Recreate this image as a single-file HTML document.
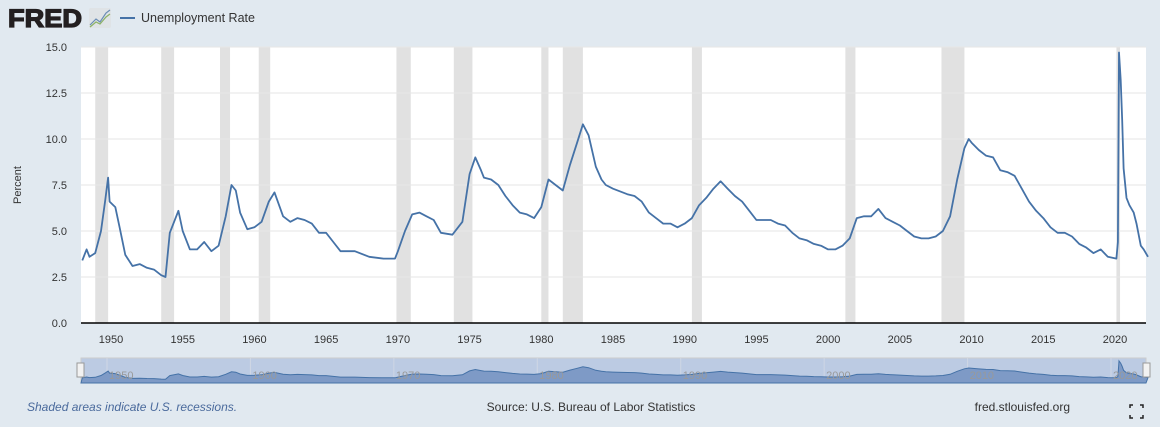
<!DOCTYPE html>
<html><head><meta charset="utf-8"><style>
body{margin:0;background:#e1e9f0;font-family:"Liberation Sans",sans-serif;}
</style></head><body>
<svg id="s" width="1160" height="427" xmlns="http://www.w3.org/2000/svg" style="display:block">
<rect width="1160" height="427" fill="#e1e9f0"/>
<text x="8" y="27" font-size="25" font-weight="bold" fill="#231f20" stroke="#231f20" stroke-width="1.3" font-family="Liberation Sans" textLength="74" lengthAdjust="spacingAndGlyphs">FRED</text>
<rect x="89" y="8" width="22" height="20" rx="2" fill="#dfe3e6"/>
<polyline points="90,25 96,19 100,22 106,13 110,10" fill="none" stroke="#6a8db5" stroke-width="1.2"/>
<polyline points="90,27 96,22 100,24 106,17 110,14" fill="none" stroke="#8cb266" stroke-width="1.2"/>
<line x1="120" y1="18" x2="135" y2="18" stroke="#4572a7" stroke-width="2"/>
<text x="141" y="22" font-size="12.5" fill="#333">Unemployment Rate</text>
<rect x="81" y="47" width="1065" height="276" fill="#fff"/>
<g id="rec" fill="#e1e1e1"></g>
<g id="grid" stroke="#e6e6e6" stroke-width="1"></g>
<g id="yl" font-size="11" fill="#333" text-anchor="end"></g>
<g id="xl" font-size="11" fill="#333" text-anchor="middle"></g>
<text transform="translate(21,185) rotate(-90)" font-size="11" fill="#333" text-anchor="middle">Percent</text>
<path id="ln" fill="none" stroke="#4572a7" stroke-width="1.8" stroke-linejoin="round"/>
<line x1="81" y1="323" x2="1146" y2="323" stroke="#000" stroke-width="1.5"/>
<rect x="81" y="358" width="1065" height="25" fill="#bccbe3" stroke="#ccc"/>
<g id="ng" stroke="#cfd7e4"></g>
<path id="na" fill="#7e9ac6" stroke="#4572a7" stroke-width="1"/>
<g id="nl" font-size="11" fill="#999"></g>
<rect x="77" y="363" width="7" height="14" fill="#f2f2f2" stroke="#999"/>
<rect x="1143" y="363" width="7" height="14" fill="#f2f2f2" stroke="#999"/>
<text x="27" y="411" font-size="12" font-style="italic" fill="#4a6a9c">Shaded areas indicate U.S. recessions.</text>
<text x="591" y="411" font-size="12" fill="#333" text-anchor="middle">Source: U.S. Bureau of Labor Statistics</text>
<text x="1070" y="411" font-size="12" fill="#333" text-anchor="end">fred.stlouisfed.org</text>
<path d="M1130 408v-3h3M1140 405h3v3M1143 415v3h-3M1133 418h-3v-3" stroke="#222" stroke-width="1.5" fill="none"/>
</svg>
<script>
const NS="http://www.w3.org/2000/svg";
const X=y=>111+(y-1950)*14.343, Y=v=>323-v*18.4;
function el(p,t,a,txt){const e=document.createElementNS(NS,t);for(const k in a)e.setAttribute(k,a[k]);if(txt)e.textContent=txt;document.getElementById(p).appendChild(e);}
[[1948.9,1949.8],[1953.5,1954.4],[1957.6,1958.3],[1960.3,1961.1],[1969.9,1970.9],[1973.9,1975.2],[1980.0,1980.5],[1981.5,1982.9],[1990.5,1991.2],[2001.2,2001.9],[2007.9,2009.5],[2020.1,2020.35]].forEach(r=>el("rec","rect",{x:X(r[0]),y:47,width:X(r[1])-X(r[0]),height:276}));
for(let i=1;i<=6;i++){const v=i*2.5;el("grid","line",{x1:81,x2:1146,y1:Y(v),y2:Y(v)});}
for(let i=0;i<=6;i++){const v=i*2.5;el("yl","text",{x:67,y:Y(v)+4},v.toFixed(1));}
for(let y=1950;y<=2020;y+=5){el("xl","text",{x:X(y),y:343},y);}
for(let y=1950;y<=2020;y+=10){el("ng","line",{x1:X(y)-4,x2:X(y)-4,y1:358,y2:383});el("nl","text",{x:X(y)-2,y:379},y);}
const d=[1948,3.4,1948.3,4.0,1948.5,3.6,1948.9,3.8,1949.3,5.0,1949.6,6.7,1949.8,7.9,1949.9,6.6,1950.3,6.3,1950.6,5.2,1951,3.7,1951.5,3.1,1952,3.2,1952.5,3.0,1953,2.9,1953.5,2.6,1953.8,2.5,1954.1,4.9,1954.7,6.1,1955,5.0,1955.5,4.0,1956,4.0,1956.5,4.4,1957,3.9,1957.5,4.2,1958,5.8,1958.4,7.5,1958.7,7.2,1959,6.0,1959.5,5.1,1960,5.2,1960.5,5.5,1961,6.6,1961.4,7.1,1962,5.8,1962.5,5.5,1963,5.7,1963.5,5.6,1964,5.4,1964.5,4.9,1965,4.9,1965.5,4.4,1966,3.9,1967,3.9,1968,3.6,1969,3.5,1969.8,3.5,1970,3.9,1970.5,5.0,1971,5.9,1971.5,6.0,1972,5.8,1972.5,5.6,1973,4.9,1973.8,4.8,1974.5,5.5,1975,8.1,1975.4,9.0,1975.8,8.3,1976,7.9,1976.5,7.8,1977,7.5,1977.5,6.9,1978,6.4,1978.5,6.0,1979,5.9,1979.5,5.7,1980,6.3,1980.5,7.8,1981,7.5,1981.5,7.2,1982,8.6,1982.5,9.8,1982.9,10.8,1983.3,10.2,1983.8,8.5,1984.2,7.8,1984.5,7.5,1985,7.3,1986,7.0,1986.5,6.9,1987,6.6,1987.5,6.0,1988,5.7,1988.5,5.4,1989,5.4,1989.5,5.2,1990,5.4,1990.5,5.7,1991,6.4,1991.5,6.8,1992,7.3,1992.5,7.7,1993,7.3,1993.5,6.9,1994,6.6,1994.5,6.1,1995,5.6,1996,5.6,1996.5,5.4,1997,5.3,1997.5,4.9,1998,4.6,1998.5,4.5,1999,4.3,1999.5,4.2,2000,4.0,2000.5,4.0,2001,4.2,2001.5,4.6,2002,5.7,2002.5,5.8,2003,5.8,2003.5,6.2,2004,5.7,2004.5,5.5,2005,5.3,2005.5,5.0,2006,4.7,2006.5,4.6,2007,4.6,2007.5,4.7,2008,5.0,2008.5,5.8,2009,7.8,2009.5,9.5,2009.8,10.0,2010,9.8,2010.5,9.4,2011,9.1,2011.5,9.0,2012,8.3,2012.5,8.2,2013,8.0,2013.5,7.3,2014,6.6,2014.5,6.1,2015,5.7,2015.5,5.2,2016,4.9,2016.5,4.9,2017,4.7,2017.5,4.3,2018,4.1,2018.5,3.8,2019,4.0,2019.5,3.6,2020.1,3.5,2020.2,4.4,2020.28,14.7,2020.4,13.2,2020.5,11.0,2020.6,8.4,2020.8,6.8,2021,6.4,2021.3,6.0,2021.5,5.4,2021.8,4.2,2022,4.0,2022.3,3.6];
let p="",n="";
for(let i=0;i<d.length;i+=2){const x=X(d[i]).toFixed(1);p+=(i?"L":"M")+x+","+Y(d[i+1]).toFixed(1);n+=(i?"L":"M")+x+","+(383-d[i+1]*1.5).toFixed(1);}
document.getElementById("ln").setAttribute("d",p);
document.getElementById("na").setAttribute("d",n+"L1146,383L81,383Z");
</script>
</body></html>
